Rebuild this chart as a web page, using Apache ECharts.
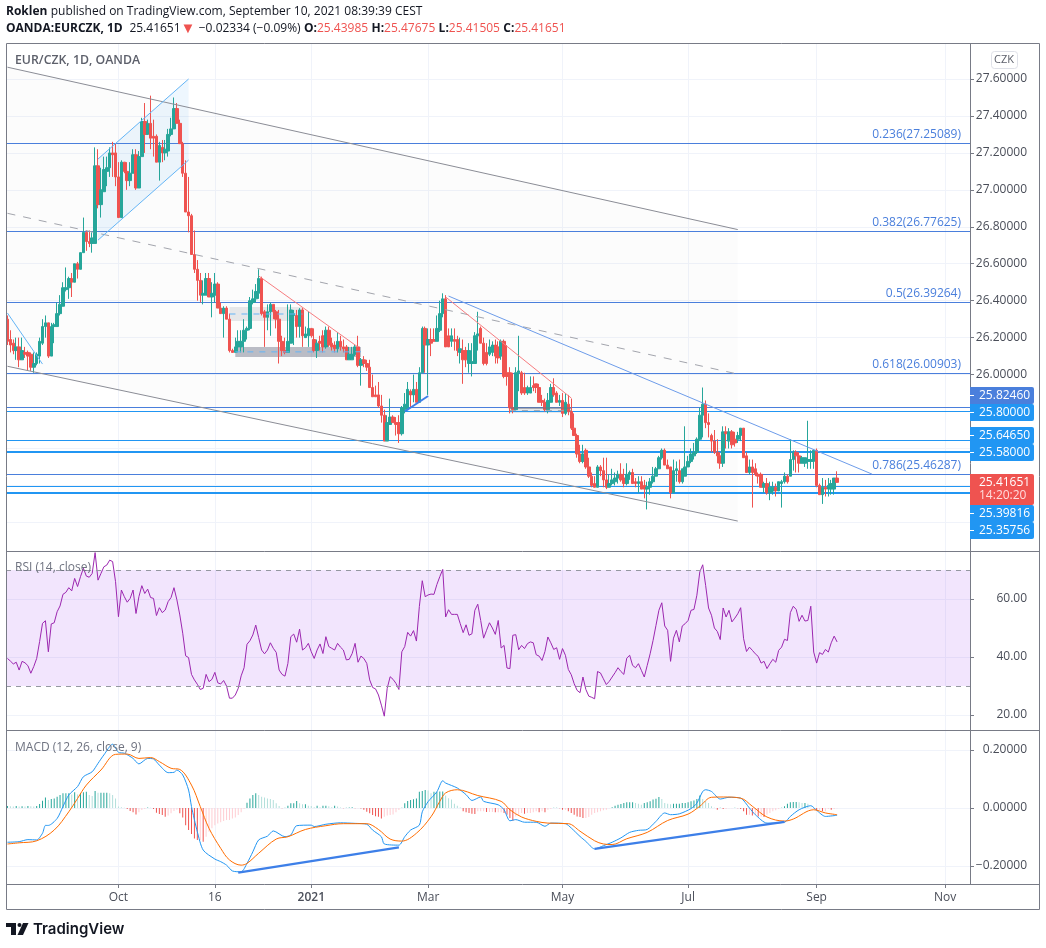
<!DOCTYPE html>
<html>
<head>
<meta charset="utf-8">
<title>EUR/CZK, 1D, OANDA</title>
<script src="https://cdn.jsdelivr.net/npm/echarts@6/dist/echarts.min.js"></script>
<style>
  html, body { margin: 0; padding: 0; background: #fff; }
  #chart { width: 1046px; height: 948px; }
</style>
</head>
<body>
<div id="chart"></div>
<script>
// daily bars: [open, close, low, high]
const ohlc = [
[26.30,26.18,26.16,26.32],[26.19,26.16,26.12,26.24],[26.17,26.13,26.11,26.19],[26.13,26.15,26.08,26.20],[26.15,26.08,26.04,26.20],
[26.08,26.13,26.08,26.20],[26.12,26.11,26.09,26.15],[26.12,26.10,26.02,26.13],[26.11,26.04,26.02,26.12],[26.04,26.06,26.01,26.12],
[26.06,26.11,26.05,26.12],[26.10,26.18,26.06,26.20],[26.17,26.26,26.16,26.30],[26.26,26.28,26.20,26.32],[26.28,26.10,26.09,26.28],
[26.10,26.26,26.10,26.28],[26.26,26.27,26.17,26.28],[26.26,26.33,26.26,26.39],[26.33,26.38,26.32,26.43],[26.37,26.47,26.37,26.50],
[26.46,26.47,26.45,26.58],[26.47,26.52,26.41,26.53],[26.52,26.50,26.42,26.55],[26.50,26.60,26.50,26.60],[26.60,26.57,26.52,26.61],
[26.57,26.66,26.57,26.66],[26.66,26.77,26.66,26.85],[26.77,26.72,26.67,26.78],[26.72,26.71,26.69,26.78],[26.71,26.74,26.66,26.77],
[26.71,27.13,26.71,27.23],[27.13,26.92,26.90,27.22],[26.92,27.00,26.85,27.12],[26.99,27.11,26.99,27.18],[27.10,27.12,27.02,27.18],
[27.12,27.20,27.07,27.23],[27.20,27.19,27.07,27.26],[27.20,27.07,27.02,27.25],[27.07,26.85,26.85,27.15],[26.85,27.15,26.85,27.16],
[27.15,27.10,27.09,27.15],[27.10,27.05,27.00,27.15],[27.05,27.09,27.02,27.15],[27.09,27.19,27.09,27.22],[27.19,27.01,27.00,27.22],
[27.01,27.18,27.01,27.21],[27.18,27.37,27.18,27.39],[27.37,27.30,27.20,27.47],[27.30,27.36,27.30,27.38],[27.36,27.28,27.22,27.51],
[27.29,27.28,27.18,27.38],[27.29,27.15,27.15,27.30],[27.15,27.24,27.05,27.26],[27.23,27.20,27.15,27.27],[27.20,27.22,27.16,27.27],
[27.21,27.30,27.18,27.33],[27.30,27.33,27.29,27.39],[27.33,27.44,27.33,27.50],[27.44,27.36,27.36,27.47],[27.36,27.25,27.25,27.38],
[27.25,27.09,27.07,27.26],[27.09,26.88,26.88,27.16],[26.88,26.86,26.77,27.07],[26.86,26.65,26.65,26.87],[26.65,26.57,26.55,26.78],
[26.57,26.51,26.40,26.62],[26.51,26.43,26.39,26.55],[26.43,26.44,26.38,26.51],[26.43,26.52,26.43,26.55],[26.52,26.42,26.42,26.55],
[26.42,26.44,26.31,26.50],[26.43,26.49,26.39,26.55],[26.49,26.36,26.36,26.50],[26.36,26.33,26.33,26.39],[26.33,26.36,26.20,26.37],
[26.36,26.30,26.30,26.37],[26.30,26.13,26.12,26.33],[26.13,26.12,26.12,26.14],[26.12,26.15,26.12,26.20],[26.15,26.18,26.12,26.24],
[26.15,26.18,26.12,26.24],[26.18,26.24,26.12,26.30],[26.24,26.25,26.19,26.26],[26.25,26.40,26.24,26.42],[26.39,26.41,26.38,26.46],
[26.41,26.45,26.39,26.49],[26.44,26.52,26.41,26.57],[26.52,26.33,26.32,26.53],[26.34,26.31,26.15,26.35],[26.31,26.34,26.24,26.38],
[26.34,26.38,26.21,26.39],[26.38,26.34,26.30,26.38],[26.34,26.30,26.25,26.35],[26.30,26.18,26.06,26.35],[26.18,26.13,26.10,26.21],
[26.13,26.12,26.11,26.20],[26.12,26.18,26.12,26.38],[26.17,26.35,26.17,26.38],[26.32,26.33,26.16,26.35],[26.32,26.26,26.20,26.35],
[26.26,26.35,26.20,26.36],[26.35,26.21,26.15,26.36],[26.20,26.22,26.20,26.26],[26.21,26.25,26.15,26.34],[26.25,26.21,26.20,26.25],
[26.19,26.13,26.12,26.25],[26.13,26.17,26.09,26.19],[26.18,26.17,26.13,26.21],[26.21,26.15,26.12,26.24],[26.15,26.24,26.14,26.26],
[26.24,26.16,26.15,26.26],[26.17,26.15,26.13,26.20],[26.16,26.14,26.12,26.18],[26.14,26.18,26.12,26.23],[26.18,26.15,26.13,26.21],
[26.15,26.14,26.12,26.19],[26.15,26.08,26.08,26.16],[26.08,26.11,26.08,26.15],[26.08,26.11,26.08,26.15],[26.11,26.15,26.10,26.16],
[26.15,26.05,26.04,26.21],[26.05,26.08,25.94,26.09],[26.08,26.06,26.04,26.10],[26.06,26.04,26.02,26.08],[26.04,25.93,25.93,26.08],
[25.93,25.88,25.88,26.00],[25.89,25.88,25.88,25.94],[25.89,25.83,25.82,25.96],[25.83,25.78,25.74,25.89],[25.78,25.64,25.64,25.81],
[25.64,25.74,25.64,25.78],[25.73,25.77,25.73,25.87],[25.77,25.74,25.74,25.78],[25.74,25.73,25.67,25.77],[25.74,25.68,25.63,25.78],
[25.68,25.82,25.67,25.83],[25.81,25.84,25.79,25.90],[25.81,25.92,25.81,25.96],[25.91,25.89,25.82,25.92],[25.89,25.92,25.85,26.00],
[25.92,25.85,25.85,25.96],[25.85,26.01,25.85,26.04],[26.01,26.25,26.01,26.26],[26.25,26.16,26.01,26.26],[26.16,26.19,25.89,26.25],
[26.19,26.17,26.10,26.25],[26.19,26.18,26.18,26.25],[26.18,26.25,26.18,26.32],[26.24,26.33,26.23,26.40],[26.33,26.41,26.31,26.44],
[26.41,26.15,26.15,26.43],[26.21,26.15,26.15,26.25],[26.18,26.21,26.15,26.25],[26.19,26.18,26.13,26.25],[26.19,26.13,26.10,26.21],
[26.12,26.14,26.06,26.20],[26.13,26.08,25.95,26.19],[26.13,26.08,26.04,26.15],[26.06,26.13,26.01,26.17],[26.06,26.07,25.99,26.17],
[26.06,26.21,26.06,26.23],[26.21,26.22,26.13,26.34],[26.25,26.17,26.17,26.26],[26.17,26.06,26.05,26.20],[26.12,26.06,26.05,26.17],
[26.11,26.15,26.10,26.19],[26.12,26.16,26.10,26.18],[26.16,26.10,26.06,26.19],[26.15,26.09,26.06,26.18],[26.10,26.18,26.08,26.19],
[26.18,25.99,25.98,26.19],[26.01,25.99,25.94,26.16],[26.01,25.82,25.79,26.04],[25.82,25.81,25.79,26.01],[25.81,26.01,25.81,26.04],
[26.01,26.02,25.91,26.21],[26.01,25.90,25.89,26.02],[25.93,25.90,25.89,26.01],[25.90,25.93,25.89,25.94],[25.90,25.93,25.90,25.99],
[25.94,25.93,25.91,25.99],[25.95,25.93,25.90,25.95],[25.93,25.85,25.85,25.95],[25.86,25.85,25.83,25.89],[25.85,25.81,25.80,25.87],
[25.81,25.86,25.79,25.90],[25.85,25.93,25.85,25.95],[25.93,25.89,25.88,25.98],[25.90,25.85,25.85,25.91],[25.85,25.86,25.83,25.89],
[25.86,25.79,25.77,25.90],[25.79,25.85,25.78,25.90],[25.84,25.80,25.78,25.89],[25.80,25.71,25.70,25.87],[25.71,25.67,25.67,25.79],
[25.67,25.57,25.55,25.68],[25.57,25.53,25.52,25.62],[25.53,25.57,25.52,25.62],[25.59,25.50,25.49,25.60],[25.50,25.45,25.44,25.55],
[25.45,25.40,25.39,25.47],[25.41,25.39,25.39,25.45],[25.39,25.50,25.39,25.51],[25.50,25.48,25.45,25.51],[25.48,25.43,25.39,25.55],
[25.43,25.39,25.38,25.55],[25.39,25.41,25.39,25.46],[25.41,25.43,25.40,25.49],[25.42,25.44,25.40,25.47],[25.44,25.46,25.41,25.48],
[25.46,25.43,25.42,25.52],[25.44,25.41,25.39,25.49],[25.41,25.46,25.40,25.52],[25.46,25.47,25.43,25.48],[25.47,25.41,25.41,25.49],
[25.42,25.41,25.39,25.44],[25.41,25.42,25.36,25.45],[25.42,25.38,25.38,25.45],[25.40,25.38,25.33,25.43],[25.38,25.39,25.27,25.42],
[25.39,25.42,25.35,25.44],[25.42,25.45,25.41,25.50],[25.45,25.49,25.45,25.50],[25.49,25.55,25.49,25.56],[25.55,25.59,25.54,25.60],
[25.59,25.51,25.51,25.60],[25.51,25.49,25.49,25.54],[25.50,25.36,25.33,25.50],[25.36,25.48,25.36,25.54],[25.48,25.49,25.42,25.53],
[25.48,25.42,25.41,25.54],[25.42,25.49,25.41,25.49],[25.45,25.50,25.45,25.72],[25.50,25.53,25.50,25.56],[25.53,25.57,25.52,25.60],
[25.56,25.58,25.54,25.63],[25.58,25.65,25.57,25.66],[25.65,25.78,25.64,25.82],[25.78,25.84,25.66,25.93],[25.84,25.74,25.71,25.86],
[25.74,25.73,25.66,25.79],[25.67,25.64,25.58,25.68],[25.64,25.58,25.57,25.70],[25.58,25.56,25.52,25.65],[25.56,25.52,25.49,25.58],
[25.52,25.69,25.50,25.72],[25.69,25.68,25.60,25.72],[25.64,25.69,25.60,25.71],[25.69,25.62,25.60,25.70],[25.65,25.63,25.61,25.69],
[25.65,25.67,25.63,25.69],[25.67,25.71,25.64,25.71],[25.71,25.55,25.55,25.71],[25.56,25.47,25.47,25.58],[25.47,25.50,25.46,25.54],
[25.50,25.47,25.28,25.54],[25.49,25.46,25.45,25.52],[25.46,25.45,25.41,25.47],[25.46,25.39,25.39,25.47],[25.39,25.41,25.36,25.42],
[25.41,25.36,25.35,25.44],[25.36,25.39,25.32,25.42],[25.37,25.39,25.35,25.42],[25.39,25.37,25.34,25.41],[25.37,25.42,25.37,25.42],
[25.41,25.42,25.28,25.43],[25.42,25.45,25.41,25.47],[25.45,25.42,25.41,25.46],[25.45,25.54,25.45,25.65],[25.54,25.58,25.48,25.59],
[25.58,25.56,25.47,25.59],[25.56,25.52,25.47,25.58],[25.52,25.55,25.52,25.56],[25.52,25.55,25.50,25.55],[25.53,25.54,25.49,25.75],
[25.53,25.54,25.49,25.59],[25.53,25.59,25.49,25.59],[25.59,25.40,25.39,25.60],[25.40,25.35,25.35,25.41],[25.35,25.39,25.30,25.44],
[25.39,25.38,25.34,25.43],[25.38,25.40,25.34,25.44],[25.38,25.41,25.35,25.43],[25.38,25.44,25.35,25.44],[25.43985,25.41651,25.41505,25.47675]
];

const rsiValues = [
39.5,38.6,37.6,38.2,35.5,38.5,38.0,37.0,34.4,36.7,39.5,45.3,51.6,52.5,41.8,51.4,51.8,55.6,57.6,61.6,
62.3,63.9,62.8,67.1,64.3,67.7,70.6,67.9,67.5,68.8,76.0,66.5,68.8,71.1,71.7,73.4,72.9,66.0,53.9,63.1,
60.8,58.9,60.2,63.1,55.0,60.8,64.6,61.9,63.4,60.5,60.2,54.3,57.0,55.3,56.2,59.1,60.5,63.9,59.7,54.5,
48.2,40.4,39.8,34.0,32.1,30.6,28.8,29.2,34.0,31.5,32.3,34.7,31.1,30.7,31.9,30.0,25.8,25.8,26.9,29.2,
33.5,36.3,44.4,45.6,47.6,51.0,46.7,42.4,41.1,42.4,44.9,43.0,41.6,35.5,34.0,33.4,37.8,47.0,47.9,45.1,
49.6,42.4,43.2,44.7,41.8,39.5,42.4,44.5,41.2,47.0,43.6,43.0,42.4,44.7,43.4,42.4,39.0,39.2,41.2,44.7,
38.2,40.3,39.5,37.8,32.1,29.5,29.0,26.9,23.4,19.6,29.2,33.2,32.3,30.9,28.8,41.8,43.6,48.5,47.2,49.1,
45.5,57.4,66.3,60.8,61.4,61.7,61.6,65.0,67.7,70.2,53.8,56.3,54.7,54.7,54.7,51.5,48.4,51.1,47.5,48.0,
56.1,58.2,52.6,46.5,49.2,51.8,50.0,47.8,52.6,43.1,44.0,36.2,36.0,47.5,47.7,42.5,44.0,42.9,44.6,45.2,
44.9,40.8,40.3,38.8,41.9,46.9,44.9,42.6,43.2,39.2,42.9,40.6,35.7,33.9,30.8,28.5,27.7,33.1,28.8,26.5,
26.1,25.6,35.0,34.5,32.5,30.5,31.6,33.1,34.6,36.3,35.0,34.0,39.6,40.6,37.1,36.3,37.7,35.4,33.1,37.1,
41.1,45.7,50.9,56.1,58.7,50.7,49.2,38.5,46.5,49.2,45.2,50.7,51.5,52.6,56.1,56.4,61.3,69.3,71.8,64.7,
56.9,54.4,50.0,48.8,46.0,56.9,53.8,56.1,52.1,53.4,54.9,57.0,46.3,41.9,43.4,42.3,41.1,40.2,37.9,38.5,
36.0,37.7,39.2,38.2,42.3,43.4,46.1,45.7,55.3,57.5,56.4,52.3,54.4,52.4,52.6,57.5,41.7,37.9,41.5,40.9,
42.6,41.7,44.9,47.2,45.2
];

const macdHist = [
.007,.006,.005,.007,.005,.006,.005,.007,.006,.005,.007,.014,.025,.036,.028,.031,.033,.039,.045,.051,
.051,.051,.047,.054,.047,.051,.054,.056,.045,.041,.059,.053,.053,.053,.053,.051,.045,.033,.005,.003,
.001,-.003,-.010,-.015,-.022,-.015,-.007,-.003,.002,.001,-.003,-.016,-.021,-.024,-.030,-.026,-.018,-.010,-.006,-.018,
-.033,-.059,-.076,-.090,-.105,-.110,-.110,-.116,-.099,-.082,-.070,-.059,-.053,-.049,-.045,-.041,-.041,-.036,-.033,-.024,
-.015,-.003,.018,.033,.045,.051,.045,.039,.036,.033,.031,.028,.016,.007,-.001,.001,.008,.016,.016,.024,
.016,.013,.013,.008,.007,.003,.008,.003,.008,.008,.006,.003,.008,.005,.002,-.001,.001,.002,.003,-.001,
-.001,-.002,-.006,-.013,-.018,-.024,-.028,-.030,-.036,-.030,-.026,-.024,-.022,-.015,-.007,.001,.016,.024,.028,.030,
.033,.056,.059,.062,.060,.051,.056,.056,.057,.057,.043,.034,.029,.015,.008,.002,-.011,-.015,-.017,-.020,
-.021,-.011,-.011,-.011,-.014,-.014,-.014,-.015,-.015,-.015,-.017,-.023,-.034,-.044,-.029,-.023,-.017,-.020,-.017,-.017,
-.015,-.011,-.015,-.011,-.015,-.006,-.003,.001,.001,-.001,-.006,-.006,-.011,-.017,-.023,-.029,-.031,-.034,-.034,-.031,
-.023,-.017,-.015,-.011,-.008,-.006,-.001,.003,.008,.011,.014,.017,.020,.020,.020,.017,.015,.011,.017,.020,
.023,.029,.032,.038,.031,.017,.015,.013,.015,.015,.015,.017,.017,.020,.023,.026,.031,.043,.031,.023,
.017,.006,.001,-.006,.001,-.003,-.003,-.001,-.001,.001,-.001,-.003,-.011,-.023,-.023,-.026,-.023,-.029,-.029,-.031,
-.023,-.017,-.011,-.008,-.003,.001,.006,.015,.020,.021,.021,.020,.017,.017,.015,.001,-.001,-.008,-.006,-.011,
-.011,-.003,-.006,-.003,-.001
];

// [bar index, value] readings along the two MACD curves
const macdLine = [
[0,-.118],[4,-.116],[7,-.109],[10,-.110],[12,-.087],[13,-.060],[14,-.060],[17,-.036],[19,.005],[21,.045],[24,.074],[26,.108],
[29,.125],[31,.154],[33,.183],[36,.220],[38,.192],[40,.189],[43,.171],[45,.152],[48,.171],[50,.169],[52,.148],[55,.122],
[57,.123],[58,.131],[60,.114],[62,.062],[63,.005],[65,-.082],[67,-.145],[71,-.176],[73,-.185],[75,-.197],[77,-.217],[80,-.220],
[82,-.191],[84,-.151],[86,-.110],[89,-.097],[91,-.079],[95,-.099],[97,-.093],[99,-.061],[104,-.059],[105,-.064],[109,-.056],
[114,-.051],[119,-.053],[123,-.056],[125,-.076],[128,-.099],[129,-.124],[134,-.128],[136,-.099],[138,-.076],[141,-.059],
[142,-.013],[144,.022],[147,.056],[149,.094],[150,.086],[154,.069],[157,.046],[159,.026],[162,.038],[163,.023],[168,.011],
[170,-.006],[172,-.044],[174,-.040],[177,-.049],[181,-.049],[184,-.063],[186,-.052],[191,-.054],[193,-.069],[196,-.098],
[198,-.115],[201,-.141],[204,-.130],[207,-.118],[210,-.103],[213,-.084],[216,-.077],[219,-.074],[222,-.046],[225,-.017],
[227,-.023],[230,-.020],[234,-.002],[236,.017],[238,.057],[239,.063],[241,.057],[244,.031],[247,.037],[251,.034],[254,0],
[256,-.023],[260,-.052],[266,-.049],[268,-.029],[271,-.006],[275,.008],[277,-.008],[280,-.029],[284,-.025]
];
const signalLine = [
[0,-.124],[4,-.120],[10,-.113],[16,-.076],[21,-.013],[24,.033],[27,.079],[32,.131],[37,.185],[41,.186],[45,.171],[49,.174],
[52,.160],[56,.137],[59,.133],[63,.079],[66,.005],[69,-.070],[73,-.139],[76,-.179],[80,-.197],[82,-.191],[86,-.156],[92,-.107],
[96,-.099],[102,-.074],[109,-.061],[115,-.054],[123,-.054],[127,-.074],[131,-.107],[135,-.114],[140,-.087],[145,-.030],
[148,.023],[150,.052],[154,.063],[161,.043],[169,.023],[172,-.006],[176,-.031],[181,-.046],[185,-.052],[192,-.054],[196,-.080],
[201,-.113],[204,-.124],[207,-.126],[212,-.106],[219,-.084],[226,-.043],[233,-.021],[237,.006],[241,.037],[245,.038],[251,.034],
[255,.006],[260,-.031],[266,-.045],[269,-.038],[276,-.006],[280,-.017],[284,-.023]
];

const barCount = 330;
const categories = Array.from({ length: barCount }, (_, i) => i);
const tickBars = [38, 71, 104, 144, 190, 233, 277, 321];
const tickLabels = ['Oct', '16', '2021', 'Mar', 'May', 'Jul', 'Sep', 'Nov'];

const priceTicks = [27.6, 27.4, 27.2, 27.0, 26.8, 26.6, 26.4, 26.2, 26.0];
const priceGridTicks = priceTicks.concat([25.8, 25.6, 25.4, 25.2]);
const rsiTicks = [60, 40, 20];
const macdTicks = [0.2, 0, -0.2];

const fibLevels = [27.25089, 26.77625, 26.39264, 26.00903, 25.46287, 25.8246];
const fibLabels = ['0.236(27.25089)', '0.382(26.77625)', '0.5(26.39264)', '0.618(26.00903)', '0.786(25.46287)', ''];
const thinLevels = [25.8, 25.6465, 25.39816];
const thickLevels = [25.58, 25.35756];

// drawings, as [bar index, price] pairs
const channelTop = [[0, 27.664], [250, 26.785]];
const channelMid = [[0, 26.873], [250, 26.003]];
const channelBottom = [[0, 26.045], [250, 25.207]];
const risingChannel = [[[31, 26.728], [62, 27.161]], [[31, 27.167], [62, 27.6]]];
const leftDownLine = [[0, 26.333], [12, 26.057]];
const redLines = [[[86, 26.534], [120, 26.149]], [[150, 26.42], [193, 25.873]]];
const downTrend = [[151, 26.425], [296, 25.461]];
const thickUp = [[136, 25.80], [144, 25.884]];
const macdDivergence = [[[79, -.223], [134, -.136]], [[201, -.141], [266, -.048]]];
const lightBoxes = [[76, 101, 26.366, 26.29], [172, 193, 25.819, 25.792]];
const darkBox = [78, 121, 26.15, 26.095];
const boxMidBlue = [[[76, 26.328], [101, 26.328]], [[78, 26.123], [121, 26.123]]];
const boxMidGrey = [[172, 25.805], [193, 25.805]];
const boxTop = [[172, 25.819], [193, 25.819]];

const priceTags = ['25.82460', '25.80000', '25.64650', '25.58000', '25.39816', '25.35756'];
const tagTops = [387, 404, 427, 444, 505, 522];
const lastPrice = '25.41651';
const countdown = '14:20:20';

const UP = '#26a69a', DOWN = '#ef5350', FIB = '#4a7fdc', RAY = '#2196f3';
const GRID = '#f0f3fa', FRAME = '#787b86', TEXT = '#4a4e59';
const FONT = '"Open Sans", sans-serif';

const isTick = i => tickBars.indexOf(i) >= 0;

function xAxis(gridIndex, withLabels) {
  return {
    type: 'category', gridIndex, data: categories, boundaryGap: true,
    axisLine: { show: false, onZero: false },
    axisTick: { show: withLabels, interval: isTick, alignWithLabel: true, length: 4, lineStyle: { color: FRAME } },
    splitLine: { show: true, interval: isTick, alignWithLabel: true, lineStyle: { color: GRID } },
    axisLabel: {
      show: withLabels, interval: isTick, margin: 8, color: TEXT, fontFamily: FONT, fontSize: 12,
      formatter: (_, i) => {
        const label = tickLabels[tickBars.indexOf(i)];
        return label === '2021' ? '{y|2021}' : label;
      },
      rich: { y: { fontWeight: 600, color: TEXT, fontFamily: FONT, fontSize: 12 } }
    }
  };
}

function yAxis(gridIndex, min, max, labelTicks, gridTicks, fmt) {
  return {
    type: 'value', gridIndex, position: 'right', min, max, scale: true,
    axisLine: { show: false },
    axisTick: { show: true, customValues: gridTicks, length: 4, lineStyle: { color: FRAME } },
    splitLine: { show: true, lineStyle: { color: GRID } },
    axisLabel: {
      customValues: labelTicks, formatter: fmt, align: 'right', margin: 57,
      color: TEXT, fontFamily: FONT, fontSize: 12
    }
  };
}

const fmt5 = v => v.toFixed(5).replace('-', '\u2212');

// plain two point lines in a given pane
function segment(points, gridIndex, lineStyle, z) {
  return {
    type: 'line', data: points, xAxisIndex: gridIndex, yAxisIndex: gridIndex,
    symbol: 'none', silent: true, lineStyle, z: z || 4
  };
}

// filled shapes through the axes' scales
function fillShape(polys, fill, z) {
  return {
    type: 'custom', xAxisIndex: 0, yAxisIndex: 0, silent: true, z: z || 1,
    data: polys.map((_, i) => [i]),
    encode: { x: -1, y: -1 },
    renderItem: (params, api) => ({
      type: 'polygon',
      shape: { points: polys[params.dataIndex].map(p => api.coord(p)) },
      style: { fill }
    })
  };
}

// full width price levels, snapped to whole pixel rows so they stay crisp
function levelSeries(levels, labels, stroke, lineWidth) {
  return {
    type: 'custom', xAxisIndex: 0, yAxisIndex: 0, silent: true, z: 2,
    data: levels.map((_, i) => [i]),
    encode: { x: -1, y: -1 },
    renderItem: (params, api) => {
      const i = params.dataIndex, cs = params.coordSys;
      const y = api.coord([0, levels[i]])[1];
      const row = lineWidth % 2 ? Math.round(y - 0.05) + 0.5 : Math.round(y);
      const children = [{
        type: 'line',
        shape: { x1: cs.x, y1: row, x2: cs.x + cs.width, y2: row },
        style: { stroke, lineWidth }
      }];
      if (labels && labels[i]) {
        children.push({
          type: 'text', x: cs.x + cs.width - 9, y: row - 3,
          style: { text: labels[i], fill: stroke, font: '12px ' + FONT, textAlign: 'right', textVerticalAlign: 'bottom' }
        });
      }
      return { type: 'group', children };
    }
  };
}

const boxCorners = b => [[b[0], b[2]], [b[1], b[2]], [b[1], b[3]], [b[0], b[3]]];

const thinBlue = { color: '#64b5f6', width: 1 };
const series = [
  fillShape([[channelTop[0], channelTop[1], channelBottom[1], channelBottom[0]]], 'rgba(120,123,134,0.025)', 1),
  fillShape([[risingChannel[0][0], risingChannel[0][1], risingChannel[1][1], risingChannel[1][0]]], 'rgba(33,150,243,0.08)', 1),
  fillShape(lightBoxes.map(boxCorners), 'rgba(120,123,134,0.16)', 1),
  fillShape([boxCorners(darkBox)], 'rgba(70,75,100,0.36)', 1),
  levelSeries(fibLevels, fibLabels, FIB, 1),
  levelSeries(thinLevels, null, RAY, 1),
  levelSeries(thickLevels, null, RAY, 2),
  {
    type: 'candlestick', name: 'EURCZK', data: ohlc, xAxisIndex: 0, yAxisIndex: 0, barWidth: 3, z: 3,
    itemStyle: { color: UP, color0: DOWN, borderColor: UP, borderColor0: DOWN, borderWidth: 1 }
  },
  segment(channelTop, 0, { color: '#8b8d96', width: 1 }),
  segment(channelMid, 0, { color: '#a3a5ad', width: 1, type: [8, 8] }),
  segment(channelBottom, 0, { color: '#8b8d96', width: 1 }),
  segment(risingChannel[0], 0, thinBlue),
  segment(risingChannel[1], 0, thinBlue),
  segment(leftDownLine, 0, thinBlue),
  segment(redLines[0], 0, { color: '#f77c80', width: 1 }),
  segment(redLines[1], 0, { color: '#f77c80', width: 1 }),
  segment(downTrend, 0, { color: '#6d9cea', width: 1 }),
  segment(thickUp, 0, { color: '#3d7fe8', width: 2 }),
  segment(boxMidBlue[0], 0, { color: '#64b5f6', width: 1, type: [6, 6] }),
  segment(boxMidBlue[1], 0, { color: '#64b5f6', width: 1, type: [6, 6] }),
  segment(boxMidGrey, 0, { color: '#a3a5ad', width: 1, type: [6, 6] }),
  segment(boxTop, 0, { color: '#6f7380', width: 1 }),
  {
    type: 'line', name: 'RSI', data: rsiValues, xAxisIndex: 1, yAxisIndex: 1,
    symbol: 'none', silent: true, lineStyle: { color: '#9c27b0', width: 1 }, z: 4,
    markArea: {
      silent: true, animation: false, z: 1,
      itemStyle: { color: 'rgba(150,40,240,0.12)' },
      data: [[{ yAxis: 70 }, { yAxis: 30 }]]
    },
    markLine: {
      silent: true, symbol: 'none', animation: false, label: { show: false },
      lineStyle: { color: '#9598a1', type: [5, 5], width: 1 },
      data: [{ yAxis: 70 }, { yAxis: 30 }]
    }
  },
  {
    type: 'bar', name: 'Histogram', xAxisIndex: 2, yAxisIndex: 2, barWidth: 1, silent: true, z: 2,
    data: macdHist.map((v, i) => {
      const rising = i === 0 || v >= macdHist[i - 1];
      const color = v >= 0 ? (rising ? UP : '#b2dfdb') : (rising ? '#ffcdd2' : DOWN);
      return { value: v, itemStyle: { color } };
    })
  },
  Object.assign(segment(macdLine, 2, { color: '#2196f3', width: 1 }), { smooth: 0.25 }),
  Object.assign(segment(signalLine, 2, { color: '#ff6d00', width: 1 }), { smooth: 0.35 }),
  segment(macdDivergence[0], 2, { color: '#3d7fe8', width: 2.2 }),
  segment(macdDivergence[1], 2, { color: '#3d7fe8', width: 2.2 })
];

// header, pane titles, price tags, footer
function txt(x, y, text, extra) {
  return { type: 'text', x, y, z: 20, silent: true, style: Object.assign({ text, font: '12px ' + FONT, fill: TEXT, textVerticalAlign: 'middle' }, extra || {}) };
}
function tag(top, label, fill) {
  return [
    { type: 'rect', z: 18, silent: true, shape: { x: 970, y: top, width: 64, height: 17, r: [0, 2, 2, 0] }, style: { fill } },
    { type: 'line', z: 19, silent: true, shape: { x1: 970, y1: top + 8.5, x2: 974, y2: top + 8.5 }, style: { stroke: '#fff' } },
    txt(979, top + 8.5, label, { fill: '#fff', font: '12px ' + FONT })
  ];
}

const graphics = [
  { type: 'rect', z: 15, silent: true, shape: { x: 6.5, y: 43.5, width: 1033, height: 866 }, style: { fill: 'none', stroke: FRAME } },
  { type: 'line', z: 15, silent: true, shape: { x1: 970.5, y1: 43, x2: 970.5, y2: 884 }, style: { stroke: FRAME } },
  { type: 'line', z: 15, silent: true, shape: { x1: 6, y1: 551.5, x2: 1039, y2: 551.5 }, style: { stroke: FRAME } },
  { type: 'line', z: 15, silent: true, shape: { x1: 6, y1: 730.5, x2: 1039, y2: 730.5 }, style: { stroke: FRAME } },
  { type: 'line', z: 15, silent: true, shape: { x1: 6, y1: 884.5, x2: 1039, y2: 884.5 }, style: { stroke: FRAME } },
  {
    type: 'text', x: 6, y: 12, z: 20, silent: true,
    style: {
      text: '{b|Roklen} {n|published on TradingView.com, September 10, 2021 08:39:39 CEST}',
      textVerticalAlign: 'middle',
      rich: {
        b: { font: '700 12px ' + FONT, fill: '#131722' },
        n: { font: '12px ' + FONT, fill: '#131722' }
      }
    }
  },
  {
    type: 'text', x: 6, y: 29, z: 20, silent: true,
    style: {
      text: '{b|OANDA:EURCZK, 1D}  {n|25.41651}{t|\u25BC} {n|\u22120.02334 (\u22120.09%)} {b|O:}{r|25.43985} {b|H:}{r|25.47675} {b|L:}{r|25.41505} {b|C:}{r|25.41651}',
      textVerticalAlign: 'middle',
      rich: {
        b: { font: '700 12px ' + FONT, fill: '#131722' },
        n: { font: '12px ' + FONT, fill: '#131722' },
        r: { font: '12px ' + FONT, fill: DOWN },
        t: { font: '15px ' + FONT, fill: DOWN }
      }
    }
  },
  txt(15, 60, 'EUR/CZK, 1D, OANDA', { font: '600 12.3px ' + FONT, fill: '#5d606b' }),
  txt(15, 568, 'RSI (14, close)', { fill: '#6f7380' }),
  txt(15, 748, 'MACD (12, 26, close, 9)', { fill: '#6f7380' }),
  { type: 'rect', z: 18, silent: true, shape: { x: 991.5, y: 51.5, width: 26, height: 17, r: 3 }, style: { fill: '#fff', stroke: '#dfe1e8' } },
  txt(994, 60, 'CZK', { font: '11px ' + FONT, fill: '#5d606b' }),
  { type: 'rect', z: 18, silent: true, shape: { x: 970, y: 474, width: 64, height: 31, r: [0, 2, 2, 0] }, style: { fill: DOWN } },
  txt(979, 483, lastPrice, { fill: '#fff', font: '12px ' + FONT }),
  txt(979, 496, countdown, { fill: '#ffdcdc', font: '12px ' + FONT }),
  { type: 'rect', z: 20, silent: true, shape: { x: 6, y: 923, width: 10, height: 4 }, style: { fill: '#131722' } },
  { type: 'rect', z: 20, silent: true, shape: { x: 11, y: 923, width: 5, height: 12 }, style: { fill: '#131722' } },
  { type: 'circle', z: 20, silent: true, shape: { cx: 19.5, cy: 925, r: 2 }, style: { fill: '#131722' } },
  { type: 'polygon', z: 20, silent: true, shape: { points: [[23, 923], [28.5, 923], [23, 935], [17.5, 935]] }, style: { fill: '#131722' } },
  txt(33, 929, 'TradingView', { font: '600 15px Inter, ' + FONT, fill: '#131722' })
];
priceTags.forEach((p, i) => graphics.push(...tag(tagTops[i], p, i === 0 ? FIB : RAY)));

const chart = echarts.init(document.getElementById('chart'), null, { renderer: 'canvas' });
chart.setOption({
  animation: false,
  backgroundColor: '#ffffff',
  textStyle: { fontFamily: FONT },
  grid: [
    { left: 6, width: 964, top: 43, height: 508 },
    { left: 6, width: 964, top: 551, height: 179 },
    { left: 6, width: 964, top: 730, height: 154 }
  ],
  xAxis: [xAxis(0, false), xAxis(1, false), xAxis(2, true)],
  yAxis: [
    yAxis(0, 25.045, 27.795, priceTicks, priceGridTicks, fmt5),
    yAxis(1, 14.83, 76.55, rsiTicks, rsiTicks, v => v.toFixed(2)),
    yAxis(2, -0.262, 0.269, macdTicks, macdTicks, fmt5)
  ],
  series,
  graphic: graphics
});
</script>
</body>
</html>
